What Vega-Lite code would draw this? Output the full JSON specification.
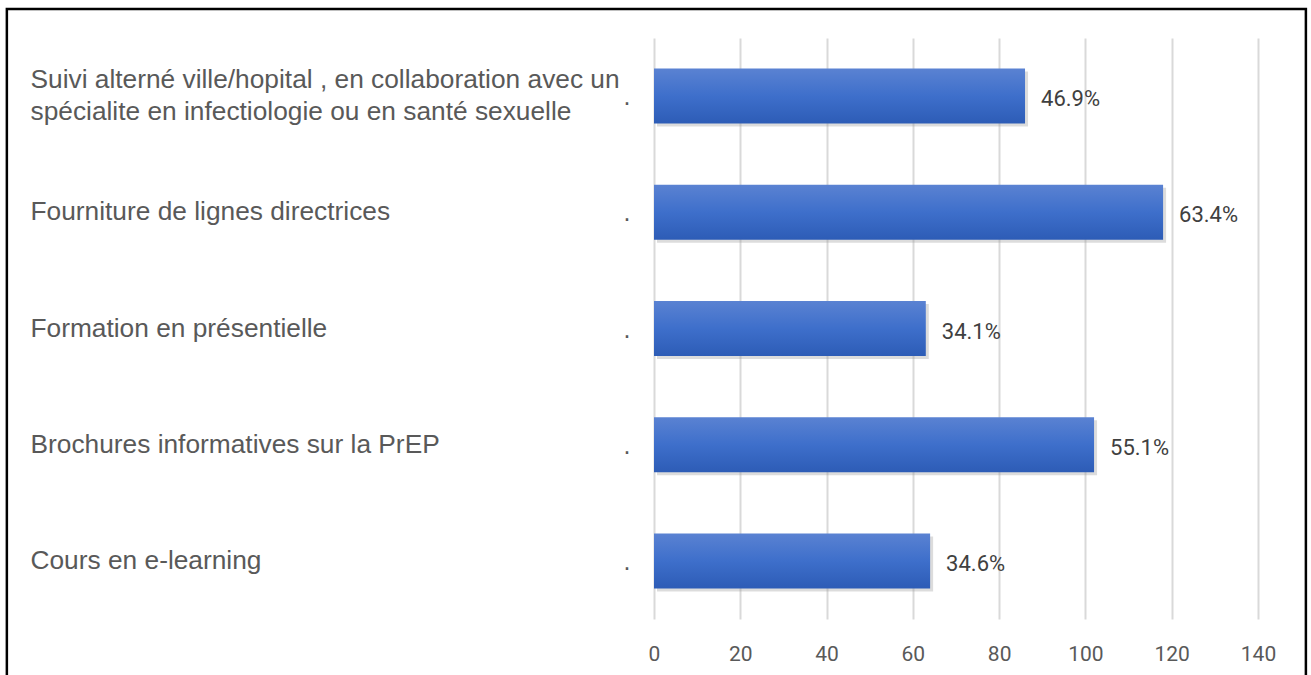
{
  "$schema": "https://vega.github.io/schema/vega-lite/v6.json",
  "width": 604,
  "height": 581,
  "autosize": {"type": "none"},
  "padding": {"left": 654, "top": 38, "right": 53, "bottom": 56},
  "background": "white",
  "config": {"view": {"stroke": null}},
  "layer": [
    {
      "data": {
        "values": [
          {"cat": "Suivi alterné ville/hopital , en collaboration avec un|spécialite en infectiologie ou en santé sexuelle", "value": 86, "pct": "46.9%"},
          {"cat": "Fourniture de lignes directrices", "value": 118, "pct": "63.4%"},
          {"cat": "Formation en présentielle", "value": 63, "pct": "34.1%"},
          {"cat": "Brochures informatives sur la PrEP", "value": 102, "pct": "55.1%"},
          {"cat": "Cours en e-learning", "value": 64, "pct": "34.6%"}
        ]
      },
      "encoding": {
        "y": {
          "field": "cat", "type": "nominal", "sort": null,
          "scale": {"paddingInner": 0.527, "paddingOuter": 0.2635},
          "axis": {
            "title": null, "domain": false, "ticks": false, "tickSize": 0,
            "labelAlign": "left", "labelPadding": 624, "labelBaseline": "middle",
            "labelExpr": "split(datum.label, '|')",
            "labelOffset": {"condition": {"test": "indexof(datum.value, '|') >= 0", "value": -16}, "value": 0},
            "labelFont": "Liberation Sans", "labelFontSize": 26.3, "labelColor": "#595959",
            "labelLineHeight": 32, "labelLimit": 700
          }
        },
        "x": {
          "field": "value", "type": "quantitative",
          "scale": {"domain": [0, 140], "nice": false},
          "axis": {
            "title": null, "values": [0, 20, 40, 60, 80, 100, 120, 140],
            "domain": false, "ticks": false, "tickSize": 0, "labelFlush": false,
            "grid": true, "gridColor": "#d9d9d9", "gridWidth": 2,
            "labelFont": "Roboto", "labelFontSize": 21, "labelColor": "#595959",
            "labelPadding": 24
          }
        }
      },
      "layer": [
        {
          "mark": {"type": "bar", "color": "#9a9a9a", "opacity": 0.35, "xOffset": 3, "yOffset": 3}
        },
        {
          "mark": {
            "type": "bar",
            "color": {
              "gradient": "linear", "x1": 0, "y1": 0, "x2": 0, "y2": 1,
              "stops": [
                {"offset": 0, "color": "#5a82d2"},
                {"offset": 0.5, "color": "#3e6fcb"},
                {"offset": 1, "color": "#2d5cb6"}
              ]
            }
          }
        },
        {
          "mark": {"type": "text", "align": "left", "baseline": "middle", "dx": 16, "dy": 3, "font": "Roboto", "fontSize": 22, "color": "#404040"},
          "encoding": {"text": {"field": "pct"}}
        },
        {
          "mark": {"type": "text", "align": "center", "baseline": "middle", "dx": -27, "dy": 1, "font": "Liberation Sans", "fontSize": 25, "color": "#595959", "text": "."},
          "encoding": {"x": {"datum": 0, "type": "quantitative"}}
        }
      ]
    },
    {
      "data": {"values": [{"left": -150, "right": 151.1, "top": 1.0499, "bottom": -0.2}]},
      "mark": {"type": "rect", "filled": false, "stroke": "#000000", "strokeWidth": 2.5, "clip": false},
      "encoding": {
        "x": {"field": "left", "type": "quantitative"},
        "x2": {"field": "right"},
        "y": {"field": "top", "type": "quantitative", "scale": {"domain": [0, 1], "nice": false, "zero": false}, "axis": null},
        "y2": {"field": "bottom"}
      }
    }
  ],
  "resolve": {"scale": {"y": "independent"}}
}
